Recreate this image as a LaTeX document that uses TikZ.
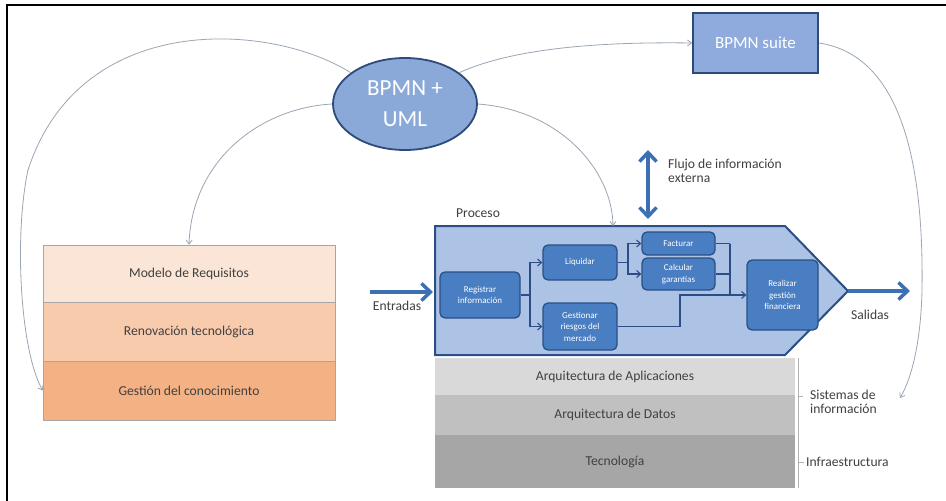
\documentclass[tikz,border=0pt]{standalone}
\usepackage{fontspec}
\setmainfont{Carlito}
\usetikzlibrary{arrows.meta,shapes.geometric}
\definecolor{ellfill}{HTML}{8AA9D8}
\definecolor{navy}{HTML}{2E4A7A}
\definecolor{suitefill}{HTML}{8FAADC}
\definecolor{procfill}{HTML}{ADC3E6}
\definecolor{procline}{HTML}{2B4E86}
\definecolor{boxfill}{HTML}{4A7EC2}
\definecolor{boxline}{HTML}{2A4F85}
\definecolor{bigblue}{HTML}{3D6FB3}
\definecolor{curvegray}{HTML}{9AA6B4}
\definecolor{peachA}{HTML}{FBE5D6}
\definecolor{peachB}{HTML}{F8CBAD}
\definecolor{peachC}{HTML}{F4B183}
\definecolor{grayA}{HTML}{D9D9D9}
\definecolor{grayB}{HTML}{C0C0C0}
\definecolor{grayC}{HTML}{A6A6A6}
\definecolor{txtgray}{HTML}{404040}
\begin{document}
\begin{tikzpicture}[x=1pt,y=-1pt,
  curve/.style={draw=curvegray, line width=0.8pt, -{Straight Barb[length=4pt,width=6pt]}},
  lrow/.style={rectangle, draw=gray!70, line width=0.6pt, inner sep=0pt, minimum width=292pt, font=\fontsize{13.6}{15}\selectfont, text=txtgray},
  grayrow/.style={rectangle, inner sep=0pt, minimum width=360pt, font=\fontsize{13.6}{15}\selectfont, text=txtgray},
  pbox/.style={rectangle, rounded corners=5pt, draw=boxline, line width=1.3pt, fill=boxfill, text=white, align=center, inner sep=1pt, font=\fontsize{9}{11.5}\selectfont},
  connline/.style={draw=procline, line width=1.1pt},
  connarrow/.style={draw=procline, line width=1.1pt, -{Straight Barb[length=4pt,width=7pt]}},
  bigarrow/.style={draw=bigblue, line width=3.5pt, -{Straight Barb[length=9pt,width=17pt]}},
  lbl/.style={font=\fontsize{13.6}{14.5}\selectfont, text=txtgray, align=left, inner sep=0pt}
]
\useasboundingbox (0,0) rectangle (946,501);
\fill[white] (0,0) rectangle (946,501);
\draw[black, line width=1.2pt] (7,501) -- (7,5) -- (946,5);

% left stack
\node[lrow, fill=peachA, minimum height=57pt] (mod) at (189,273.5) {Modelo de Requisitos};
\node[lrow, fill=peachB, minimum height=59pt] (ren) at (189,331.5) {Renovación tecnológica};
\node[lrow, fill=peachC, minimum height=59pt] (ges) at (189,390.5) {Gestión del conocimiento};

% gray stack
\node[grayrow, fill=grayA, minimum height=37pt] (app) at (615,376.5) {Arquitectura de Aplicaciones};
\node[grayrow, fill=grayB, minimum height=40pt] (dat) at (615,415) {Arquitectura de Datos};
\node[grayrow, fill=grayC, minimum height=53pt] (tec) at (615,461.5) {Tecnología};

% bracket
\draw[gray!60, line width=0.6pt] (798,358) -- (798,488);
\draw[gray!60, line width=0.6pt] (798,396) -- (803,396);
\draw[gray!60, line width=0.6pt] (798,462) -- (804,462);
\node[lbl, anchor=west] (sis) at (810,402) {Sistemas de\\información};
\node[lbl, anchor=west] (inf) at (806,462) {Infraestructura};

% process
\draw[procline, fill=procfill, line width=2pt] (435,226) -- (785,226) -- (848,291) -- (785,355) -- (435,355) -- cycle;
\coordinate (tip) at (848,291);
\coordinate (ptop) at (613,226);
\node[lbl, anchor=west] (proc) at (456,213) {Proceso};

% BPMN + UML
\node[ellipse, draw=navy, line width=1.8pt, fill=ellfill, minimum width=144pt, minimum height=92pt, inner sep=0pt, text=white, align=center, font=\fontsize{23}{31}\selectfont] (ell) at (405,104) {BPMN +\\UML};

% BPMN suite
\node[rectangle, draw=navy, line width=1.8pt, fill=suitefill, minimum width=125pt, minimum height=60pt, inner sep=0pt, text=white, font=\fontsize{17}{20}\selectfont] (suite) at (755.5,43) {BPMN suite};

% inner boxes
\node[pbox, minimum width=80pt, minimum height=46pt] (reg) at (480,295) {Registrar\\información};
\node[pbox, minimum width=74pt, minimum height=35pt] (liq) at (580,262.5) {Liquidar};
\node[pbox, minimum width=73pt, minimum height=23pt] (fac) at (678.5,243.5) {Facturar};
\node[pbox, minimum width=73pt, minimum height=32pt] (cal) at (678.5,274) {Calcular\\garantías};
\node[pbox, minimum width=74pt, minimum height=47pt] (gst) at (580,326.5) {Gestionar\\riesgos del\\mercado};
\node[pbox, minimum width=71pt, minimum height=70pt] (rea) at (782.5,295) {Realizar\\gestión\\financiera};

% inner connectors
\coordinate (j1) at (530,295);
\draw[connline] (reg.east) -- (j1);
\draw[connarrow] (j1) |- (liq.west);
\draw[connarrow] (j1) |- (gst.west);
\coordinate (j2) at (628,262.5);
\draw[connline] (liq.east) -- (j2);
\draw[connarrow] (j2) |- (fac.west);
\draw[connarrow] (j2) |- (cal.west);
\coordinate (j3) at (730,243.5);
\coordinate (j5) at (730,274);
\draw[connline] (fac.east) -- (j3);
\draw[connline] (cal.east) -- (j5);
\draw[connarrow] (j3) |- (rea.west);
\coordinate (j4) at (680,326.5);
\coordinate (j6) at (680,295);
\draw[connline] (gst.east) -- (j4) -- (j6) -- (730,295);

% big arrows
\coordinate (ein) at (370,292);
\coordinate (eout) at (433,292);
\draw[bigarrow] (ein) -- (eout);
\node[lbl, anchor=north] (ent) at (397,301) {Entradas};
\coordinate (sout) at (910,291);
\draw[bigarrow] (tip) -- (sout);
\node[lbl, anchor=north] (sal) at (870,310) {Salidas};
\coordinate (ft) at (648,150);
\coordinate (fb) at (648,219);
\draw[draw=bigblue, line width=3.5pt, {Straight Barb[length=9pt,width=17pt]}-{Straight Barb[length=9pt,width=17pt]}] (ft) -- (fb);
\node[lbl, anchor=west] (flujo) at (668,171) {Flujo de información\\externa};

% curves
\draw[curve] (ell.150) .. controls (270,22) and (80,10) .. (28,170) .. controls (14,235) and (20,350) .. (ges.west);
\draw[curve] (ell.west) .. controls (260,108) and (192,160) .. (mod.north);
\draw[curve] (ell.east) .. controls (560,110) and (612,170) .. (ptop);
\draw[curve] (ell.30) .. controls (520,45) and (620,42) .. (suite.west);
\coordinate (send) at (900,398);
\draw[curve] (suite.east) .. controls (900,55) and (924,160) .. (922,290) .. controls (921,340) and (912,378) .. (send);
\end{tikzpicture}
\end{document}
